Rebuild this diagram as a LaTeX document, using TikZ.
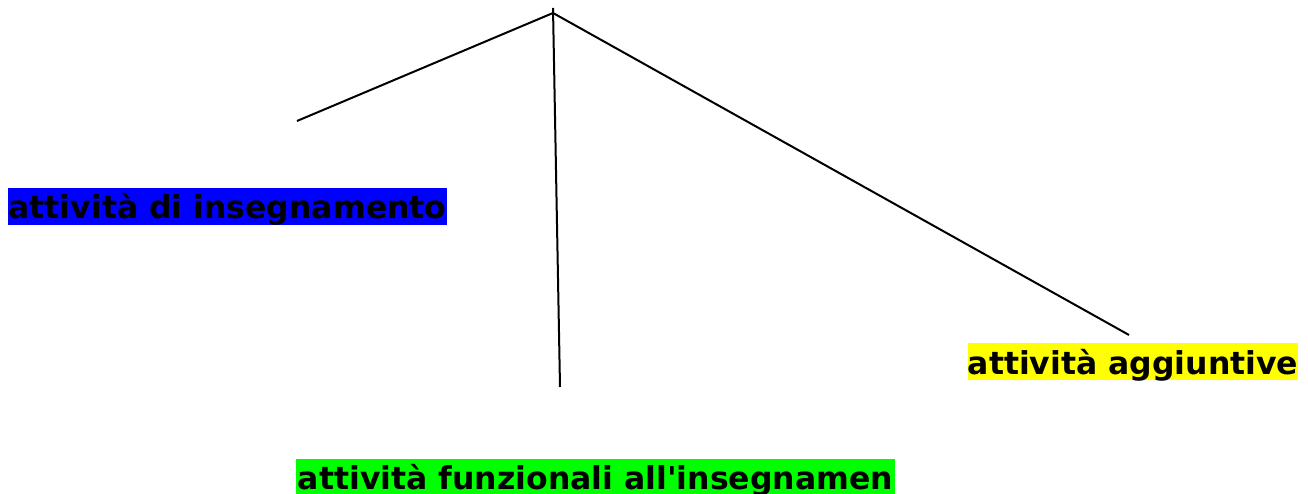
\documentclass[tikz,border=0pt]{standalone}
\usepackage{fontspec}
\setmainfont{DejaVu Sans}[Ligatures=TeXOff]
\definecolor{lblblue}{RGB}{0,0,255}
\definecolor{lblgreen}{RGB}{0,255,0}
\definecolor{lblyellow}{RGB}{255,255,0}
\begin{document}
\begin{tikzpicture}[x=1pt,y=1pt,
  lbl/.style={inner sep=0pt, minimum height=37pt, text height=31pt, text depth=6pt,
    font=\fontsize{31.5}{37}\selectfont\bfseries, text=black},
  conn/.style={line width=2pt, black}]
\useasboundingbox (0,0) rectangle (1308,494);
\fill[white] (0,0) rectangle (1308,494);
% labels
\node[lbl, fill=lblblue, minimum width=439pt] (insegn) at (227.5,287.5) {attività di insegnamento};
\node[lbl, fill=lblyellow, minimum width=330pt] (aggiunt) at (1133,132) {attività aggiuntive};
\node[lbl, fill=lblgreen, minimum width=599pt] (funz) at (595.5,16.5) {attività funzionali all'insegnamen};
% connector end points
\coordinate (top) at (553,486);
\coordinate (apex) at (553,481);
\coordinate (endL) at (297,373);
\coordinate (endM) at (560,107);
\coordinate (endR) at (1129,159);
\draw[conn] (top) -- (endM);
\draw[conn] (apex) -- (endL);
\draw[conn] (apex) -- (endR);
\end{tikzpicture}
\end{document}
